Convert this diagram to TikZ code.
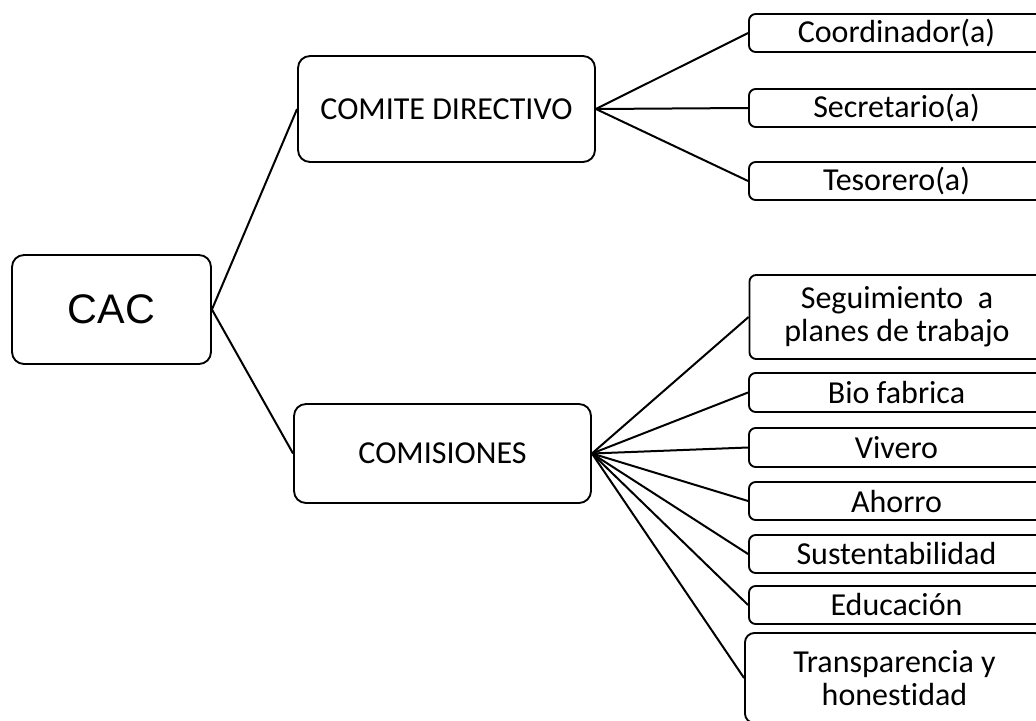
\documentclass[tikz,border=0pt]{standalone}
\usepackage{fontspec}
\setmainfont{Carlito}[Ligatures={CommonOff,ContextualOff,DiscretionaryOff}]
\newfontfamily\arialf{Liberation Sans}
\begin{document}
\begin{tikzpicture}[x=0.75pt,y=-0.75pt,
  box/.style={draw, line width=1.4pt, rounded corners=6pt, inner sep=0pt, align=center,
    font=\fontsize{24}{24.5}\selectfont},
  bigbox/.style={box, rounded corners=9pt},
  leaf/.style={box, rounded corners=5pt, minimum width={295*0.75pt}},
  link/.style={line width=1.5pt}]
\useasboundingbox (0,0) rectangle (1036,721);
\clip (0,0) rectangle (1036,721);
% main nodes
\node[bigbox, minimum width={199*0.75pt}, minimum height={109*0.75pt},
  font=\arialf\fontsize{31}{33}\selectfont] (cac) at (111.5,309.5) {CAC};
\node[bigbox, minimum width={297*0.75pt}, minimum height={106*0.75pt}] (cd) at (446.5,109) {COMITE DIRECTIVO};
\node[bigbox, minimum width={297*0.75pt}, minimum height={99*0.75pt}] (com) at (442.5,453.5) {COMISIONES};
% committee leaves
\node[leaf, minimum height={38*0.75pt}] (coord) at (896.5,33) {Coordinador(a)};
\node[leaf, minimum height={38*0.75pt}] (secr) at (896.5,108) {Secretario(a)};
\node[leaf, minimum height={38*0.75pt}] (teso) at (896.5,181) {Tesorero(a)};
% commission leaves
\node[leaf, minimum height={84*0.75pt}] (segu) at (897,317) {Seguimiento\ \ a\\planes de trabajo};
\node[leaf, minimum height={39*0.75pt}] (bio) at (896.5,392.5) {Bio fabrica};
\node[leaf, minimum height={39*0.75pt}] (viv) at (896.5,447.5) {Vivero};
\node[leaf, minimum height={38*0.75pt}] (aho) at (896.5,501) {Ahorro};
\node[leaf, minimum height={38*0.75pt}] (sus) at (896.5,554) {Sustentabilidad};
\node[leaf, minimum height={38*0.75pt}] (edu) at (896.5,605) {Educación};
\node[leaf, rounded corners=7pt, minimum width={299*0.75pt}, minimum height={90*0.75pt}] (tra) at (894.5,678) {Transparencia y\\honestidad};
% connectors
\draw[link] (cac.east) -- (cd.west);
\draw[link] (cac.east) -- (com.west);
\foreach \n in {coord,secr,teso} \draw[link] (cd.east) -- (\n.west);
\foreach \n in {segu,bio,viv,aho,sus,edu,tra} \draw[link] (com.east) -- (\n.west);
\end{tikzpicture}
\end{document}
